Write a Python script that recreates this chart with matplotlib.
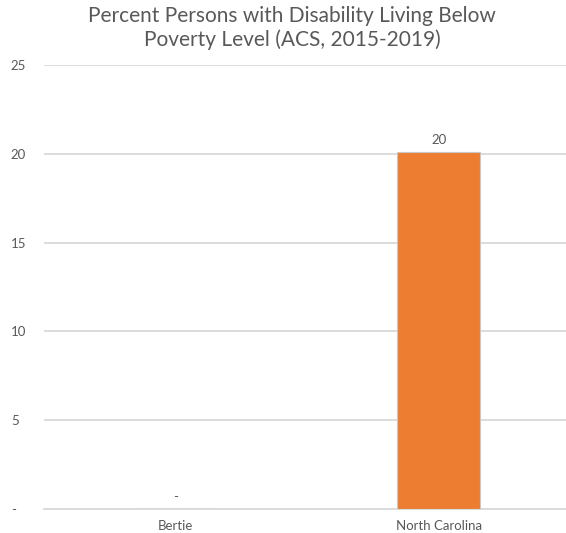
import matplotlib
matplotlib.use('Agg')
import matplotlib.pyplot as plt

plt.rcParams['font.family'] = ['Lato', 'DejaVu Sans']

categories = ['Bertie', 'North Carolina']
values = [0, 20.1]
value_labels = ['-', '20']
y_ticks = [0, 5, 10, 15, 20, 25]
y_tick_labels = ['-', '5', '10', '15', '20', '25']

text_color = '#595959'
grid_color = '#d9d9d9'

fig = plt.figure(figsize=(5.66, 5.33), dpi=100)
ax = fig.add_axes([0.078, 0.045, 0.93, 0.833])

x = list(range(len(categories)))
ax.bar(x, values, width=0.315, color='#ed7d31', edgecolor='#c8c8c8', linewidth=0.8, zorder=3)

for xi, v, lab in zip(x, values, value_labels):
    ax.text(xi, v + 0.35, lab, ha='center', va='bottom', fontsize=9.5, color=text_color)

ax.set_xlim(-0.5, 1.5)
ax.set_ylim(0, 25)
ax.set_yticks(y_ticks)
ax.set_yticklabels(y_tick_labels)
ax.set_xticks(x)
ax.set_xticklabels(categories)
ax.tick_params(axis='both', length=0, labelsize=9.5, labelcolor=text_color)
ax.tick_params(axis='y', pad=24)
ax.tick_params(axis='x', pad=8)
for lbl in ax.get_yticklabels():
    lbl.set_horizontalalignment('left')

ax.yaxis.grid(True, color=grid_color, linewidth=1.3, zorder=0)
for s in ['top', 'right', 'left']:
    ax.spines[s].set_visible(False)
ax.spines['bottom'].set_color(grid_color)
ax.spines['bottom'].set_linewidth(1.3)

fig.suptitle('Percent Persons with Disability Living Below\nPoverty Level (ACS, 2015-2019)',
             x=0.516, y=0.988, fontsize=15, color=text_color, linespacing=1.2)

fig.savefig('out.png', dpi=100, facecolor='white')
